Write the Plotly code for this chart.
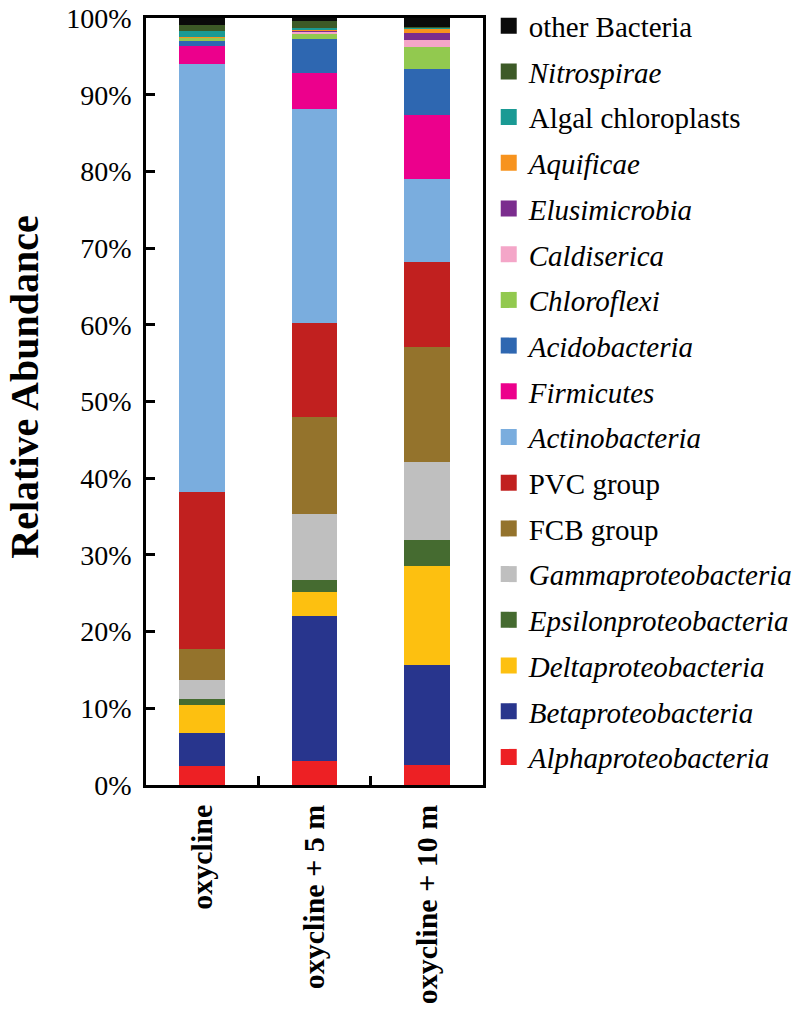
import plotly.graph_objects as go

categories = ["oxycline", "oxycline + 5 m", "oxycline + 10 m"]

# bottom -> top stacking order
alpha = [2.44, 3.09, 2.65]
beta = [4.34, 18.92, 13.05]
delta = [3.61, 3.17, 12.84]
epsilon = [0.78, 1.57, 3.39]
gamma = [2.52, 8.52, 10.12]
fcb = [4.04, 12.71, 15.06]
pvc = [20.48, 12.30, 11.09]
actino = [55.75, 27.92, 10.87]
firmicutes = [2.40, 4.57, 8.31]
acido = [0.65, 4.47, 5.95]
chloroflexi = [0.39, 0.74, 2.83]
caldiserica = [0.05, 0.20, 0.95]
elusimicrobia = [0.05, 0.20, 1.00]
aquificae = [0.05, 0.10, 0.56]
algal = [0.78, 0.20, 0.10]
nitrospirae = [0.78, 0.87, 0.10]
other = [0.89, 0.46, 1.13]

y_ticks = list(range(0, 101, 10))
y_ticktext = [f"{v}%" for v in y_ticks]

series = [
    ("<i>Alphaproteobacteria</i>", alpha, "#ed2024"),
    ("<i>Betaproteobacteria</i>", beta, "#28358d"),
    ("<i>Deltaproteobacteria</i>", delta, "#fdc010"),
    ("<i>Epsilonproteobacteria</i>", epsilon, "#456b30"),
    ("<i>Gammaproteobacteria</i>", gamma, "#bfbfbf"),
    ("FCB group", fcb, "#94732c"),
    ("PVC group", pvc, "#c1201f"),
    ("<i>Actinobacteria</i>", actino, "#7aadde"),
    ("<i>Firmicutes</i>", firmicutes, "#ec008c"),
    ("<i>Acidobacteria</i>", acido, "#2e67b1"),
    ("<i>Chloroflexi</i>", chloroflexi, "#92c94f"),
    ("<i>Caldiserica</i>", caldiserica, "#f4a6c8"),
    ("<i>Elusimicrobia</i>", elusimicrobia, "#7b2d8e"),
    ("<i>Aquificae</i>", aquificae, "#f7931e"),
    ("Algal chloroplasts", algal, "#1a9a94"),
    ("<i>Nitrospirae</i>", nitrospirae, "#3d5a27"),
    ("other Bacteria", other, "#0a0a0a"),
]

FONT = "Liberation Serif"

fig = go.Figure()
for name, vals, col in series:
    fig.add_trace(go.Bar(x=categories, y=vals, name=name, marker_color=col,
                         marker_line_width=0, showlegend=False))

# legend entries (top -> bottom)
for name, vals, col in reversed(series):
    fig.add_trace(go.Scatter(x=[None], y=[None], mode="markers", name=name,
                             legendgroup=name,
                             marker=dict(symbol="square", size=16, color=col)))

fig.update_layout(
    width=800, height=1012,
    barmode="stack", bargap=0.595,
    paper_bgcolor="white", plot_bgcolor="white",
    margin=dict(l=138, r=325, t=10, b=235, autoexpand=False),
    font=dict(family=FONT, color="black"),
    legend=dict(x=1.017, xanchor="left", y=1.023, yanchor="top",
                traceorder="grouped", tracegroupgap=5, maxheight=1012,
                font=dict(family=FONT, size=29, color="black"),
                bgcolor="rgba(0,0,0,0)"),
    xaxis=dict(showline=True, linecolor="black", linewidth=2.5, mirror=True,
               ticks="inside", ticklen=9, tickwidth=2.5, tickcolor="black",
               tickson="boundaries", tickangle=-90, ticklabelstandoff=5,
               tickfont=dict(family=FONT, size=30, weight="bold", color="black"),
               showgrid=False),
    yaxis=dict(range=[0, 100], tickvals=y_ticks, ticktext=y_ticktext,
               ticklabeloverflow="allow",
               showline=True, linecolor="black", linewidth=2.5, mirror=True,
               ticks="inside", ticklen=9, tickwidth=2.5, tickcolor="black",
               ticklabelstandoff=6,
               tickfont=dict(family=FONT, size=28, color="black"),
               showgrid=False, zeroline=False),
    annotations=[dict(text="<b>Relative Abundance</b>", textangle=-90,
                      xref="paper", yref="paper", x=(17 - 138) / 337, y=0.518,
                      xanchor="center", yanchor="middle", showarrow=False,
                      font=dict(family=FONT, size=40, color="black"))],
)

fig.write_html("out.html")
